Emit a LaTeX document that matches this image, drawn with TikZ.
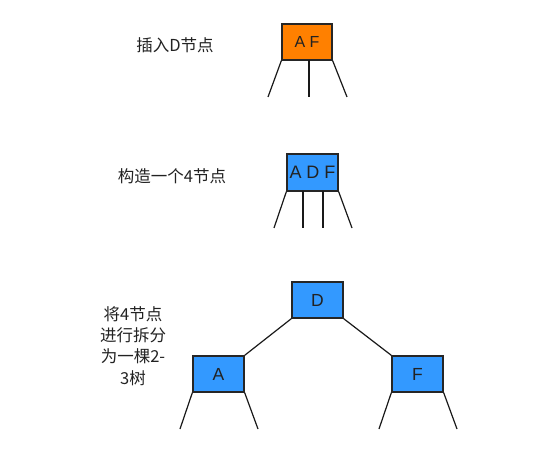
\documentclass[tikz,border=0pt]{standalone}
\usepackage{fontspec}
\setmainfont{Liberation Sans}
\newfontfamily\cjk{Noto Sans CJK SC}
\definecolor{boxorange}{HTML}{FF8000}
\definecolor{boxblue}{HTML}{3399FF}
\definecolor{txt}{HTML}{222222}
\begin{document}
\begin{tikzpicture}[x=1pt,y=-1pt,
  treebox/.style={draw=black!85,line width=1.3pt,minimum width=50pt,minimum height=36pt,inner sep=0pt,
     font=\fontsize{17.5}{19}\selectfont,text=txt},
  leg/.style={draw=black!90,line width=1.2pt},
  caption/.style={font=\cjk\fontsize{16.5}{21.3}\selectfont,text=txt,align=center,inner sep=0pt}]
\useasboundingbox[fill=white] (0,0) rectangle (550,452);
% step 1
\node[caption] (c1) at (175,45) {插入D节点};
\node[treebox,fill=boxorange,font=\fontsize{16}{18}\selectfont] (af) at (307,42) {A F};
\coordinate (af1) at (268,97);
\coordinate (af2t) at (309,60);
\coordinate (af2) at (309,97);
\coordinate (af3) at (347,97);
\draw[leg] (af.south west) -- (af1);
\draw[leg] (af2t) -- (af2);
\draw[leg] (af.south east) -- (af3);
% step 2
\node[caption] (c2) at (172,176) {构造一个4节点};
\node[treebox,fill=boxblue,minimum width=51pt,minimum height=37pt,font=\fontsize{18}{20}\selectfont] (adf) at (312.5,172.5) {A D F};
\coordinate (adf1) at (274,228);
\coordinate (adf2t) at (303,191);
\coordinate (adf2) at (303,228);
\coordinate (adf3t) at (323,191);
\coordinate (adf3) at (323,228);
\coordinate (adf4) at (352,228);
\draw[leg] (adf.south west) -- (adf1);
\draw[leg] (adf2t) -- (adf2);
\draw[leg] (adf3t) -- (adf3);
\draw[leg] (adf.south east) -- (adf4);
% step 3
\node[caption] (c3) at (133,346) {将4节点\\进行拆分\\为一棵2-\\3树};
\node[treebox,fill=boxblue,minimum width=51pt] (d) at (317.5,300) {D};
\node[treebox,fill=boxblue,minimum width=51pt] (a) at (218.5,374) {A};
\node[treebox,fill=boxblue,minimum width=51pt] (f) at (417.5,374) {F};
\draw[leg] (d.south west) -- (a.north east);
\draw[leg] (d.south east) -- (f.north west);
\coordinate (a1) at (180,429);
\coordinate (a2) at (258,429);
\coordinate (f1) at (379,429);
\coordinate (f2) at (457,429);
\draw[leg] (a.south west) -- (a1);
\draw[leg] (a.south east) -- (a2);
\draw[leg] (f.south west) -- (f1);
\draw[leg] (f.south east) -- (f2);
\end{tikzpicture}
\end{document}
